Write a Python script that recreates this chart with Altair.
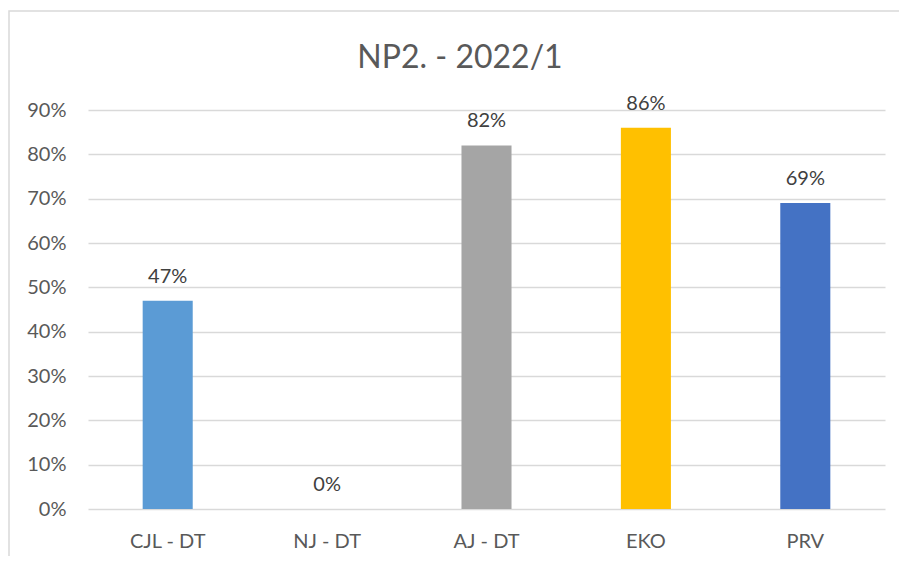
import altair as alt
import pandas as pd

categories = ["CJL - DT", "NJ - DT", "AJ - DT", "EKO", "PRV"]
values = [0.47, 0.0, 0.82, 0.86, 0.69]
colors = ["#5B9BD5", "#ED7D31", "#A5A5A5", "#FFC000", "#4472C4"]
y_ticks = [0, 0.1, 0.2, 0.3, 0.4, 0.5, 0.6, 0.7, 0.8, 0.9]
title_text = "NP2. - 2022/1"

df = pd.DataFrame({"cat": categories, "val": values})

FONT = "Lato"
GREY = "#595959"

x_enc = alt.X("cat:N", sort=categories, title=None,
              scale=alt.Scale(paddingInner=0.686, paddingOuter=0.343),
              axis=alt.Axis(labelAngle=0, labelFontSize=20, labelColor=GREY, labelFont=FONT,
                            ticks=False, domain=False, labelPadding=22))
y_enc = alt.Y("val:Q", title=None,
              scale=alt.Scale(domain=[0, 0.9], nice=False),
              axis=alt.Axis(values=y_ticks, format=".0%", labelFontSize=20, labelColor=GREY,
                            labelFont=FONT, ticks=False, domain=False, labelPadding=22,
                            grid=True, gridColor="#D9D9D9", gridWidth=1.5))

bars = alt.Chart(df).mark_bar().encode(
    x=x_enc, y=y_enc,
    color=alt.Color("cat:N", sort=categories, legend=None,
                    scale=alt.Scale(domain=categories, range=colors)),
)

labels = alt.Chart(df).mark_text(baseline="alphabetic", dy=-18, fontSize=20, font=FONT,
                                 color="#404040").encode(
    x=alt.X("cat:N", sort=categories),
    y=alt.Y("val:Q"),
    text=alt.Text("val:Q", format=".0%"),
)

title = alt.Chart(pd.DataFrame({"t": [title_text]})).mark_text(
    fontSize=32, font=FONT, color=GREY, baseline="alphabetic", align="center"
).encode(x=alt.value(372), y=alt.value(-42), text="t:N")

border = alt.Chart(pd.DataFrame({"a": [0]})).mark_rect(
    fill=None, stroke="#D9D9D9", strokeWidth=1.5
).encode(x=alt.value(-79), x2=alt.value(900), y=alt.value(-99), y2=alt.value(600))

chart = alt.layer(border, bars, labels, title).properties(
    width=797, height=399,
    autosize=alt.AutoSizeParams(type="none"),
    padding={"left": 80, "top": 102, "right": 14, "bottom": 47},
).configure_view(stroke=None)

chart.save("out.html", embed_options={"renderer": "svg", "actions": False})
